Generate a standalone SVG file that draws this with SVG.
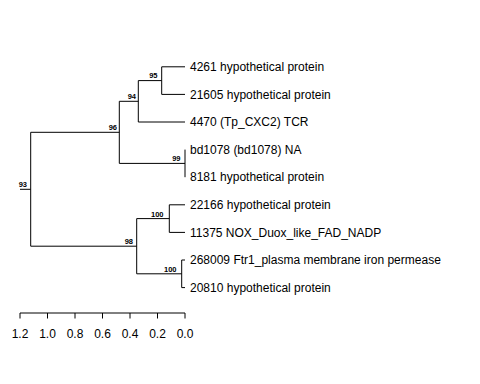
<svg xmlns="http://www.w3.org/2000/svg" width="480" height="384" viewBox="0 0 480 384">
<style>
.br{stroke:#000;stroke-width:1;fill:none}
.lf{font-family:"Liberation Sans",Arial,sans-serif;font-size:12px;fill:#000}
.bs{font-family:"Liberation Sans",Arial,sans-serif;font-size:7.5px;font-weight:bold;fill:#000;text-anchor:end}
.ax{font-family:"Liberation Sans",Arial,sans-serif;font-size:12px;fill:#000;text-anchor:middle}
</style>
<rect width="480" height="384" fill="#fff"/>
<g id="connectors" class="br">
<path d="M20,189.3H30.7M30.7,132.3V246.2"/>
<path d="M30.7,132.3H119.3M119.3,101.3V163.4"/>
<path d="M119.3,101.3H138.3M138.3,80.6V122"/>
<path d="M138.3,80.6H161.7M161.7,66.8V94.4"/>
<path d="M161.7,66.8H185M161.7,94.4H185M138.3,122H185"/>
<path d="M119.3,163.4H185M185,149.6V177.2"/>
<path d="M30.7,246.2H136.7M136.7,218.6V273.8"/>
<path d="M136.7,218.6H169.3M169.3,204.8V232.4M169.3,204.8H185M169.3,232.4H185"/>
<path d="M136.7,273.8H181.7M181.7,260V287.6M181.7,260H185M181.7,287.6H185"/>
</g>
<g id="n93"><text class="bs" x="27" y="187">93</text></g>
<g id="n96"><text class="bs" x="117" y="130">96</text></g>
<g id="n94"><text class="bs" x="136" y="98.5">94</text></g>
<g id="n95"><text class="bs" x="157.5" y="78.3">95</text></g>
<g id="n99"><text class="bs" x="180.5" y="161">99</text></g>
<g id="n98"><text class="bs" x="133" y="244">98</text></g>
<g id="n100a"><text class="bs" x="163.5" y="216.5">100</text></g>
<g id="n100b"><text class="bs" x="176.5" y="272">100</text></g>
<g id="leaf1"><text class="lf" x="190" y="71">4261 hypothetical protein</text></g>
<g id="leaf2"><text class="lf" x="190" y="98.6">21605 hypothetical protein</text></g>
<g id="leaf3"><text class="lf" x="190" y="126.2">4470 (Tp_CXC2) TCR</text></g>
<g id="leaf4"><text class="lf" x="190" y="153.8">bd1078 (bd1078) NA</text></g>
<g id="leaf5"><text class="lf" x="190" y="181.4">8181 hypothetical protein</text></g>
<g id="leaf6"><text class="lf" x="190" y="209">22166 hypothetical protein</text></g>
<g id="leaf7"><text class="lf" x="190" y="236.6">11375 NOX_Duox_like_FAD_NADP</text></g>
<g id="leaf8"><text class="lf" x="190" y="264.2">268009 Ftr1_plasma membrane iron permease</text></g>
<g id="leaf9"><text class="lf" x="190" y="291.8">20810 hypothetical protein</text></g>
<g id="axis">
<path class="br" d="M20,313H185M20,313V318.5M47.5,313V318.5M75,313V318.5M102.5,313V318.5M130,313V318.5M157.5,313V318.5M185,313V318.5"/>
<text class="ax" x="20" y="338">1.2</text>
<text class="ax" x="47.5" y="338">1.0</text>
<text class="ax" x="75" y="338">0.8</text>
<text class="ax" x="102.5" y="338">0.6</text>
<text class="ax" x="130" y="338">0.4</text>
<text class="ax" x="157.5" y="338">0.2</text>
<text class="ax" x="185" y="338">0.0</text>
</g>
</svg>
